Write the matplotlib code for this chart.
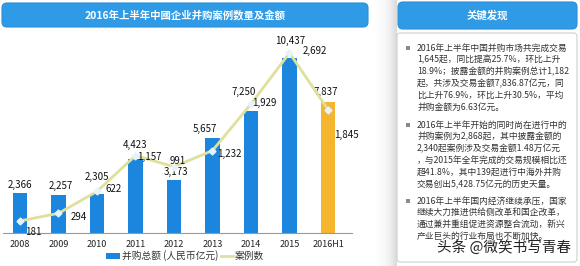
import matplotlib
matplotlib.use("Agg")
import matplotlib.pyplot as plt
from matplotlib.patches import FancyBboxPatch, Rectangle
import numpy as np

plt.rcParams['font.family'] = ['Noto Sans CJK SC', 'DejaVu Sans']

# ---- data ----
years = ['2008', '2009', '2010', '2011', '2012', '2013', '2014', '2015', '2016H1']
amounts = [2366, 2257, 2305, 4423, 3173, 5657, 7250, 10437, 7837]
cases = [181, 294, 622, 1157, 991, 1232, 1929, 2692, 1845]
amount_labels = ['2,366', '2,257', '2,305', '4,423', '3,173', '5,657', '7,250', '10,437', '7,837']
case_labels = ['181', '294', '622', '1,157', '991', '1,232', '1,929', '2,692', '1,845']
title = '2016年上半年中國企业并购案例数量及金额'
legend_bar = '并购总额 (人民币亿元)'
legend_line = '案例数'
panel_title = '关键发现'
paragraphs = [
    ['2016年上半年中国并购市场共完成交易',
     '1,645起，同比提高25.7%，环比上升',
     '18.9%；披露金额的并购案例总计1,182',
     '起，共涉及交易金额7,836.87亿元，同',
     '比上升76.9%，环比上升30.5%，平均',
     '并购金额为6.63亿元。'],
    ['2016年上半年开始的同时尚在进行中的',
     '并购案例为2,868起，其中披露金额的',
     '2,340起案例涉及交易金额1.48万亿元',
     '，与2015年全年完成的交易规模相比还',
     '超41.8%，其中139起进行中海外并购',
     '交易创出5,428.75亿元的历史天量。'],
    ['2016年上半年国内经济继续承压，国家',
     '继续大力推进供给侧改革和国企改革，',
     '通过兼并重组促进资源整合流动，新兴',
     '产业巨头的行业布局也不断加快。'],
]
watermark = '头条 @微笑书写青春'

# ---- layout (pixels) ----
W, H = 580, 266
fig = plt.figure(figsize=(W / 100, H / 100), dpi=100)
bg = fig.add_axes([0, 0, 1, 1])
bg.set_xlim(0, W)
bg.set_ylim(H, 0)
bg.axis('off')

# shadow gradient near right panel
grad = np.linspace(0, 1, 50).reshape(1, -1)
bg.imshow(grad ** 2, extent=(372, 397, H, 0), cmap='Greys', vmin=0, vmax=4,
          aspect='auto', zorder=0)
bg.set_xlim(0, W)
bg.set_ylim(H, 0)

# left title bar
bg.add_patch(FancyBboxPatch((2, 3), 366, 24, boxstyle='round,pad=0,rounding_size=5',
                            fc='#2f9be6', ec='#2a8fd8', lw=0.8, zorder=1))
bg.text(185, 15.5, title, color='white', fontsize=7.5, fontweight='bold',
        ha='center', va='center', zorder=2)

# right panel
bg.add_patch(FancyBboxPatch((397, 33), 180, 229, boxstyle='round,pad=0,rounding_size=3',
                            fc='white', ec='#d0d0d0', lw=0.8, zorder=1))
bg.add_patch(FancyBboxPatch((398, 2), 179, 27, boxstyle='round,pad=0,rounding_size=5',
                            fc='#2f9be6', ec='#2a8fd8', lw=0.8, zorder=2))
bg.text(487, 15.5, panel_title, color='white', fontsize=7.5, fontweight='bold',
        ha='center', va='center', zorder=3)

para_y = [48, 125, 201]
line_h = 11.9
for p, y0 in zip(paragraphs, para_y):
    bg.add_patch(Rectangle((405.5, y0 - 2), 4, 4, fc='#8a8a8a', ec='none', zorder=3))
    for i, line in enumerate(p):
        bg.text(417, y0 + i * line_h, line, fontsize=6.3, color='#333333',
                ha='left', va='center', zorder=3)
bg.text(437, 248, watermark, fontsize=10.5, color='#222222', ha='left', va='center',
        zorder=4)

# legend
bg.add_patch(Rectangle((106, 253), 14, 6, fc='#1c86de', ec='none'))
bg.text(122, 256, legend_bar, fontsize=7, color='#333333', ha='left', va='center')
bg.plot([221, 233], [256, 256], color='#dfe09c', lw=2)
bg.text(235, 256, legend_line, fontsize=7, color='#333333', ha='left', va='center')

# ---- chart axes ----
ax_left, ax_right, ax_bottom, ax_top = 3, 352, 233, 40
ax = fig.add_axes([ax_left / W, 1 - ax_bottom / H, (ax_right - ax_left) / W,
                   (ax_bottom - ax_top) / H])
ax.patch.set_alpha(0)
x = np.arange(len(years))
pitch = 38.5
ax.set_xlim((ax_left - 20) / pitch, (ax_right - 20) / pitch)
ax.set_ylim(0, (ax_bottom - ax_top) / 0.01677)
colors = ['#1c86de'] * (len(years) - 1) + ['#f5b52e']
ax.bar(x, amounts, width=0.38, color=colors, zorder=2)
for s in ['top', 'left', 'right']:
    ax.spines[s].set_visible(False)
ax.spines['bottom'].set_color('#999999')
ax.spines['bottom'].set_linewidth(0.8)
ax.set_yticks([])
ax.set_xticks(x)
ax.set_xticklabels(years, fontsize=6.5, color='#222222')
ax.tick_params(axis='x', length=0, pad=5)

ax2 = ax.twinx()
ax2.set_ylim(0, (ax_bottom - ax_top) / 0.0669)
ax2.axis('off')
ax2.plot(x, cases, color='#dfe09c', lw=2, zorder=3)
ax2.plot(x, cases, ls='none', marker='D', ms=3.5, mfc='#e6f3fb', mec='#e6f3fb', zorder=4)

# label offsets in pixels (dx, dy up)
bar_off = [(0, 8), (2, 9), (0, 17), (0, 14), (2, 8), (-8, 9), (-7, 19), (1, 17), (-2, 10)]
case_off = [(13, -11), (20, -4), (17, 2), (14, -1), (4, 6), (17, -3), (13, 1), (25, 2), (18, -25)]
for i in range(len(years)):
    ax.annotate(amount_labels[i], (x[i], amounts[i]),
                xytext=(bar_off[i][0] * 0.72, bar_off[i][1] * 0.72), textcoords='offset points',
                ha='center', va='center', fontsize=7, color='#111111', zorder=5,
                annotation_clip=False)
    ax2.annotate(case_labels[i], (x[i], cases[i]),
                 xytext=(case_off[i][0] * 0.72, case_off[i][1] * 0.72), textcoords='offset points',
                 ha='center', va='center', fontsize=7, color='#111111', zorder=5,
                 annotation_clip=False)

fig.savefig('out.png', dpi=100)
